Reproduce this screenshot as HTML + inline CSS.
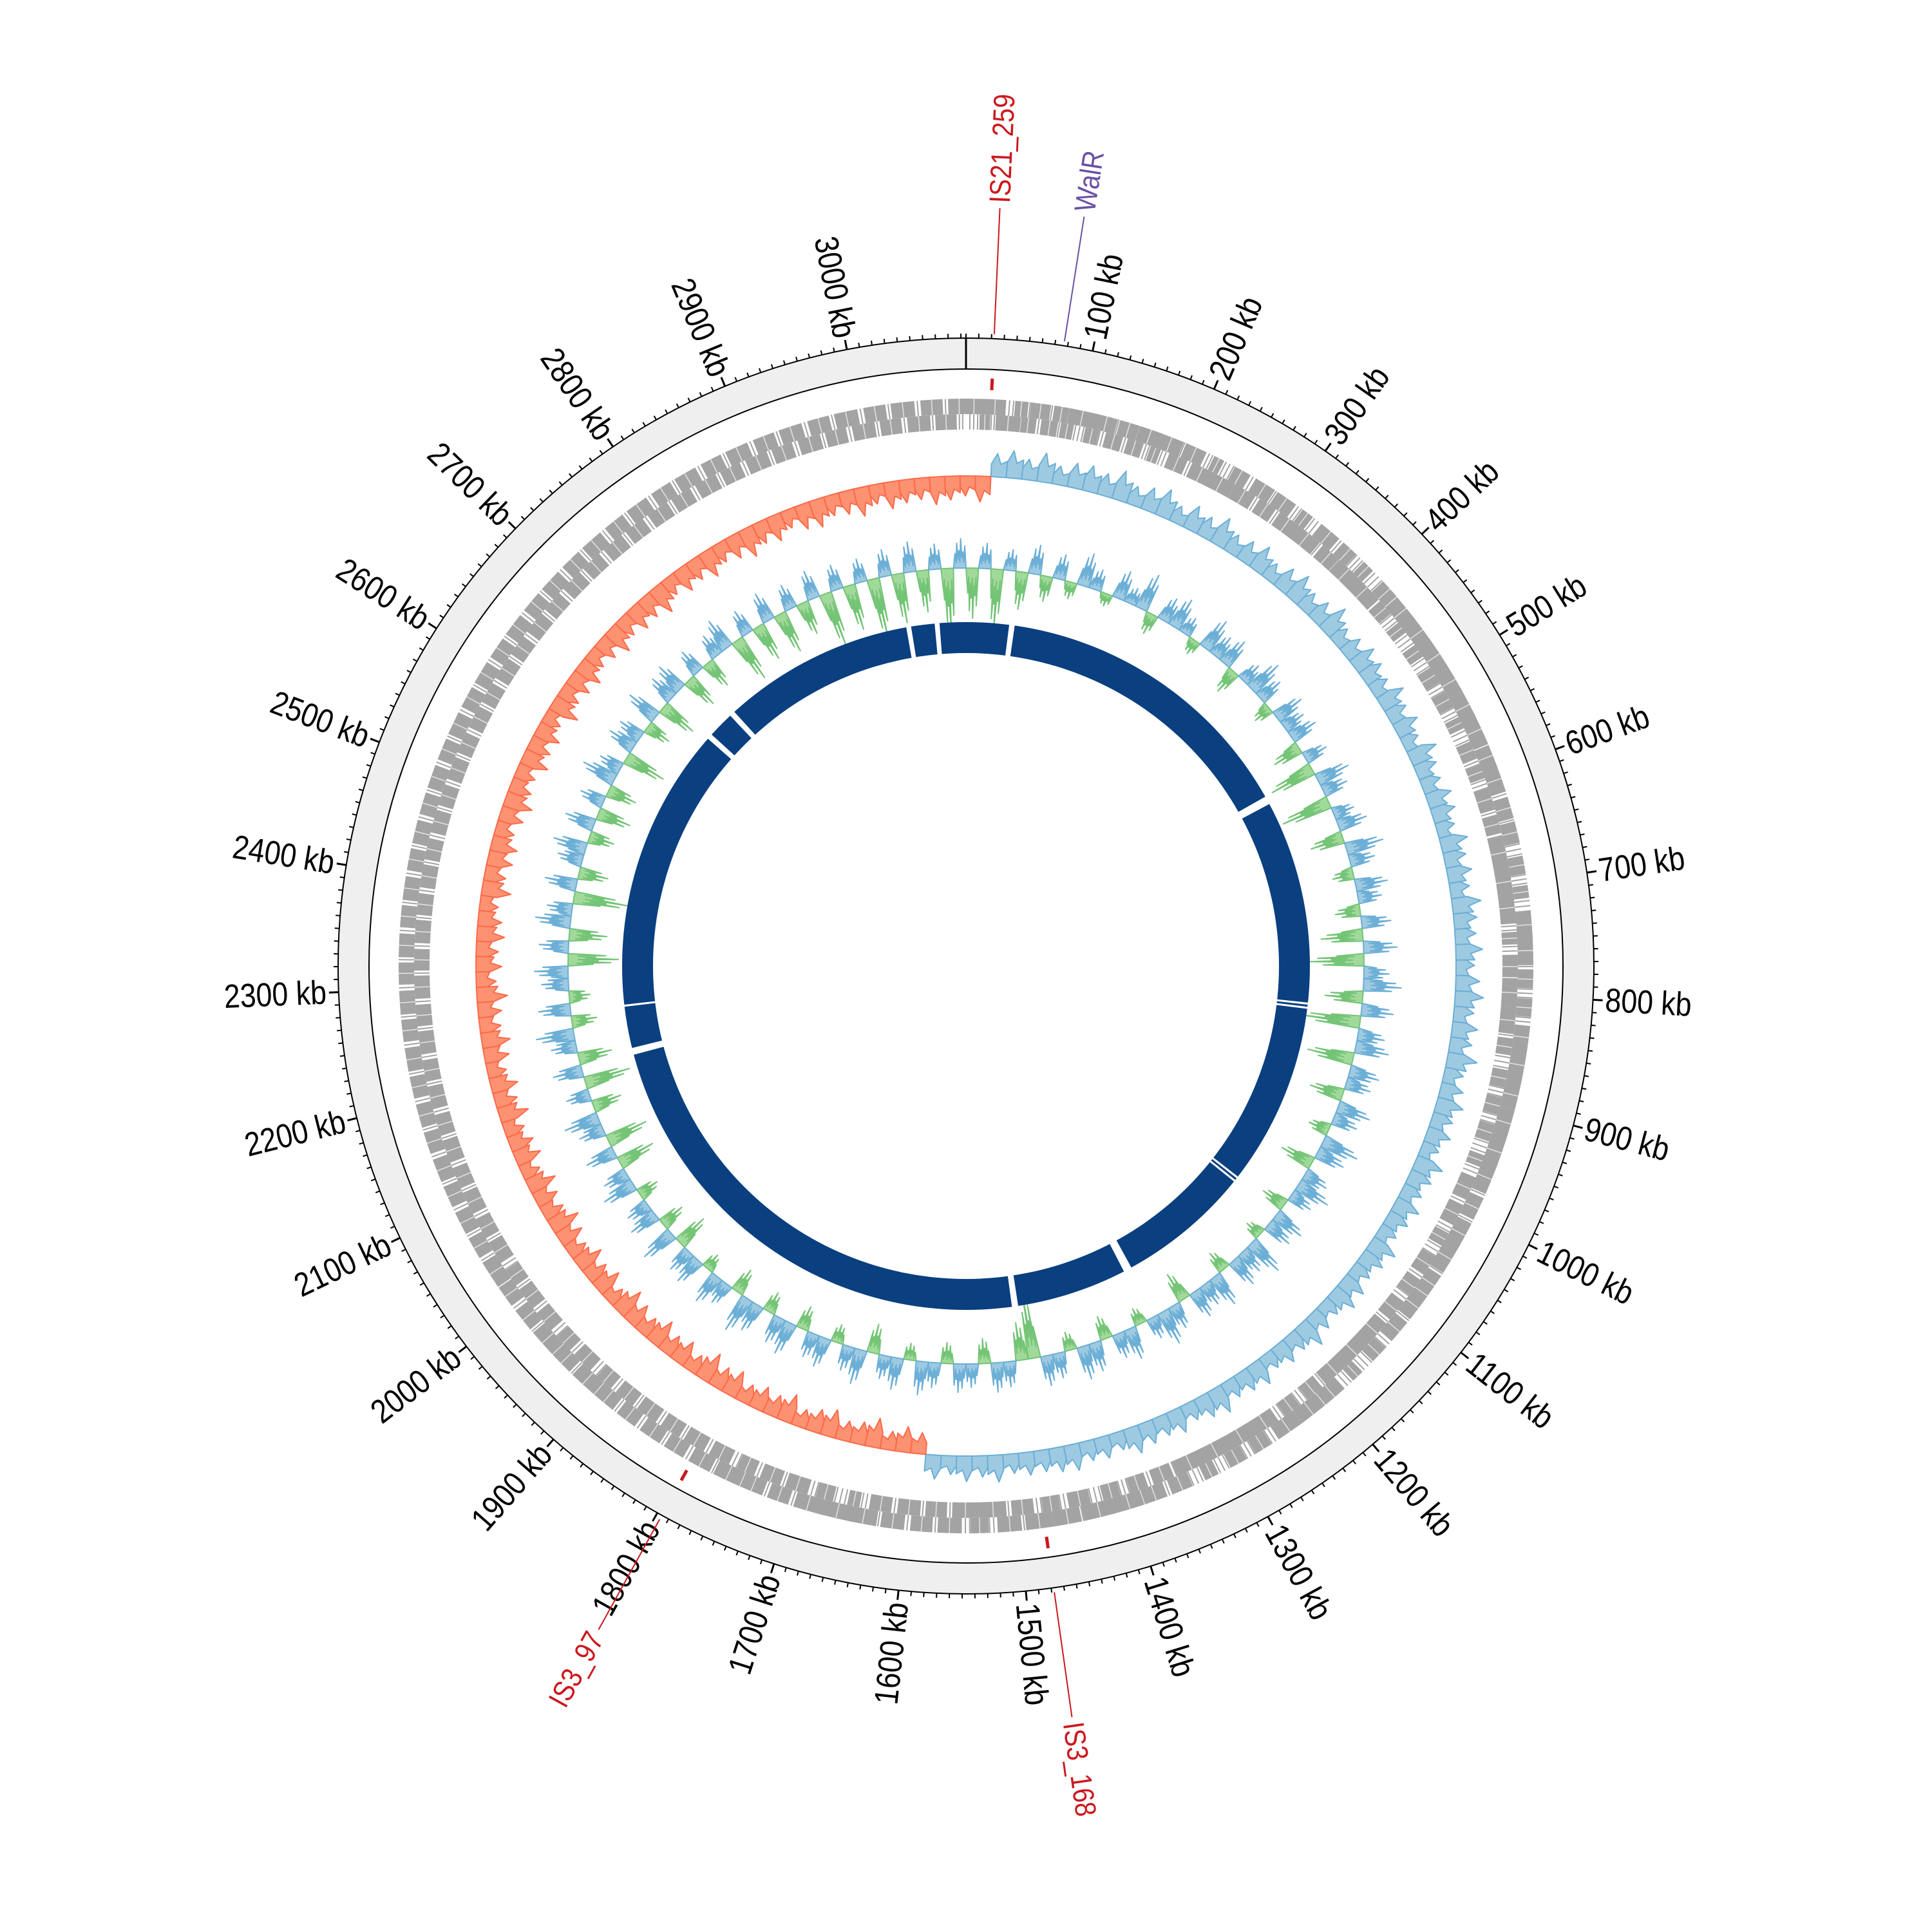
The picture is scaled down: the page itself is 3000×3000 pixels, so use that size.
<!DOCTYPE html>
<html>
<head>
<meta charset="utf-8">
<style>
  html, body { margin: 0; padding: 0; background: #ffffff; }
  svg { display: block; }
  text { font-family: "Liberation Sans Narrow", "Liberation Sans", sans-serif; }
</style>
</head>
<body>
<svg id="chart" width="3000" height="3000" viewBox="0 0 3000 3000" xmlns="http://www.w3.org/2000/svg">
  <rect x="0" y="0" width="3000" height="3000" fill="#ffffff"/>
  <g id="g-ring"></g>
  <g id="g-ticks"></g>
  <g id="g-cds"></g>
  <g id="g-skew"></g>
  <g id="g-gc"></g>
  <g id="g-inner"></g>
  <g id="g-annot"></g>
</svg>
<script>
// ---- data ----
const genomeKb = 3094;
const tickLabelsKb = [100,200,300,400,500,600,700,800,900,1000,1100,1200,1300,1400,1500,1600,1700,1800,1900,2000,2100,2200,2300,2400,2500,2600,2700,2800,2900,3000];
const cdsSwitchKb = [0,14,20,31,45,52,60,71,80,88,95,110,118,130,139,150,158,170,176,190,200,212,225,231,246,255,268,280,290,302,315,322,338,350,362,371,385,392,410,421,430,445,452,470,478,495,505,520,530,545,552,570,580,592,600,615,628,640,650,662,680,690,705,712,730,745,752,768,780,790,805,815,830,842,851,870,880,895,905,920,930,948,955,972,985,998,1010,1025,1033,1050,1062,1075,1085,1100,1112,1125,1140,1150,1168,1175,1192,1205,1215,1230,1240,1255,1270,1280,1295,1305,1322,1330,1348,1360,1372,1385,1395,1410,1420,1438,1450,1465,1475,1490,1502,1515,1530,1540,1555,1568,1580,1592,1605,1618,1630,1645,1652,1670,1680,1695,1708,1720,1732,1745,1755,1770,1782,1795,1808,1820,1832,1845,1858,1870,1882,1895,1905,1920,1932,1945,1955,1970,1982,1995,2008,2020,2030,2045,2058,2070,2082,2095,2108,2120,2132,2145,2158,2170,2182,2195,2208,2220,2232,2245,2258,2270,2282,2295,2308,2320,2332,2345,2358,2370,2382,2395,2408,2420,2432,2445,2458,2470,2482,2495,2508,2520,2532,2545,2558,2570,2582,2595,2608,2620,2632,2645,2658,2670,2682,2695,2708,2720,2732,2745,2758,2770,2782,2795,2808,2820,2832,2845,2858,2870,2882,2895,2908,2920,2932,2945,2958,2970,2982,2995,3008,3020,3032,3045,3058,3070,3082,3094];
const skewStartKb = 25;
const gcSkewPos = [72,85,64,90,58,77,81,69,93,60,74,88,55,79,67,91,62,70,84,57,76,89,63,71,95,59,68,82,73,61,87,66,78,54,92,70,63,80,75,58,86,69,77,61,90,72,65,83,57,74,88,62,79,68,93,60,71,85,66,76,56,89,73,64,81,70,58,87,75,62,78,84,59,69,91,66,74,57,82,71,63,88,76,60,79,67,73,86,58,70,64,83,77,68,72,61,84,66,79,58,74];
const gcSkewNeg = [66,80,59,92,71,63,87,74,58,90,69,77,62,85,73,95,60,79,68,88,64,76,91,57,83,70,86,61,78,94,67,72,89,58,81,75,63,92,70,84,59,77,88,66,73,95,62,80,69,86,74,58,91,67,79,83,61,76,90,70,64,87,73,81,59,94,68,77,85,62,71,89,66,80,74,92,60,78,69,87,63,75,93,70,82,58,79,88,65,73,90,61,84,72,67,86,74,62,80];
const gcContent = [-60,30,-70,25,-45,35,-30,
 30,-20,40,25,-15,35,20,45,-25,30,38,22,-18,40,28,35,-30,25,42,30,-22,36,27,33,
 -35,28,-55,40,30,-60,25,35,-40,45,30,-25,38,28,-30,
 35,-50,40,-65,30,45,-45,38,-70,32,40,-55,36,30,-40,
 40,30,-25,45,35,-40,30,42,28,-30,38,33,-20,45,30,36,-25,40,28,34,-35,30,42,26,-20,38,30,-28,35,40,-22,30,36,
 -75,-45,30,35,-30,28,
 34,-25,30,40,-20,38,28,-35,42,30,-22,36,30,-28,40,33,-25,35,45,-30,28,38,-20,34,30,-40,42,-30,35,28,-25,40,30,-45,36,-50,30,42,-35,28,-55,
 35,-40,30,45,-30,38,-25,32,40,-60,35,-45,42,30,-65,38,-35,30,40,-30,
 36,-40,30,-35,42,28,-50,34,30,-30,40,-45,32,36,-40,30,-35,28,38,-55,30,-45,35,-50,30,
 -40,34,-65,30,-55,28,-70,32,-60,36,-50,30,-75,35];
const contigGapStartKb = [62,520,826,832,1098,1104,1300,1472,2192,2262,2676,2722,3008,3049];
const contigGapEndKb   = [70,532,829,835,1101,1107,1312,1481,2202,2265,2684,2730,3015,3056];
const annotNames = ["IS21_259","WalR","IS3_168","IS3_97"];
const annotKb = [22,77,1478,1796];
const annotColors = ["#cb181d","#6a51a3","#cb181d","#cb181d"];

// ---- geometry ----
const NS = "http://www.w3.org/2000/svg";
const cx = 1500, cy = 1500;
const R_OUT = 975, R_IN = 927;
function ang(kb){ return kb / genomeKb * 2 * Math.PI; }
function pt(kb, r){ const a = ang(kb); return [cx + r*Math.sin(a), cy - r*Math.cos(a)]; }
function f(n){ return n.toFixed(2); }
function sector(k1, k2, r1, r2){
  const large = ((k2 - k1) / genomeKb) > 0.5 ? 1 : 0;
  const a = pt(k1, r2), b = pt(k2, r2), c = pt(k2, r1), d = pt(k1, r1);
  return `M${f(a[0])},${f(a[1])} A${r2},${r2} 0 ${large} 1 ${f(b[0])},${f(b[1])} L${f(c[0])},${f(c[1])} A${r1},${r1} 0 ${large} 0 ${f(d[0])},${f(d[1])} Z`;
}
function mk(tag, attrs, parent){
  const el = document.createElementNS(NS, tag);
  for (const k in attrs) el.setAttribute(k, attrs[k]);
  parent.appendChild(el);
  return el;
}
function radialText(parent, kb, r, str, size, color){
  const deg = kb / genomeKb * 360;
  const p = pt(kb, r);
  const flip = deg >= 180;
  const rot = flip ? deg + 90 : deg - 90;
  const t = mk('text', {x:0, y:0, 'font-size':size, fill:color, 'text-anchor': flip ? 'end' : 'start', 'dominant-baseline':'central',
    transform:`translate(${f(p[0])} ${f(p[1])}) rotate(${f(rot)}) scale(0.86 1)`}, parent);
  t.textContent = str;
  return t;
}

// ---- outer ring ----
const gRing = document.getElementById('g-ring');
let ringBand = mk('path', {d: sector(0, genomeKb*0.5, R_IN, R_OUT) + ' ' + sector(genomeKb*0.5, genomeKb, R_IN, R_OUT), fill:'#efefef', stroke:'none'}, gRing);


let c1 = mk('circle', {cx:cx, cy:cy, r:R_OUT, fill:'none', stroke:'#000', 'stroke-width':2}, gRing);


let c2 = mk('circle', {cx:cx, cy:cy, r:R_IN, fill:'none', stroke:'#000', 'stroke-width':2}, gRing);


let originLine = mk('line', {x1:cx, y1:cy-R_IN, x2:cx, y2:cy-R_OUT, stroke:'#000', 'stroke-width':3}, gRing);



// ---- ticks ----
const gTicks = document.getElementById('g-ticks');
for (let kb = 0; kb < genomeKb; kb += 10) {
  const major = (kb % 100 === 0) && kb > 0;
  const p1 = pt(kb, R_OUT), p2 = pt(kb, R_OUT + (major ? 15 : 7));
  const t = mk('line', {x1:f(p1[0]), y1:f(p1[1]), x2:f(p2[0]), y2:f(p2[1]), stroke:'#000', 'stroke-width': major ? 3 : 2}, gTicks);
  
  
}
tickLabelsKb.forEach(kb => {
  const t = radialText(gTicks, kb, 994, kb + ' kb', 52, '#000');
  
  
});

// ---- CDS tracks ----
const gCds = document.getElementById('g-cds');
for (let i = 0; i < cdsSwitchKb.length - 1; i++) {
  const k1 = cdsSwitchKb[i], k2 = cdsSwitchKb[i+1];
  const fwd = i % 2 === 0;
  const r1 = fwd ? 857 : 833, r2 = fwd ? 881 : 857;
  const span = k2 - k1;
  const p = mk('path', {d: sector(k1 - span*0.3, k2 + span*0.3, r1, r2), fill:'#a3a3a3'}, gCds);
  
  
  for (let j = 1; j <= 3; j++) {
    const km = k1 + span*j/4;
    const q1 = pt(km, fwd ? 833 : 857), q2 = pt(km, fwd ? 857 : 881);
    const l = mk('line', {x1:f(q1[0]), y1:f(q1[1]), x2:f(q2[0]), y2:f(q2[1]), stroke:'#a3a3a3', 'stroke-width':2}, gCds);
    
    
  }
  const w1 = pt(k1 + span*0.5, r1), w2 = pt(k1 + span*0.5, r2);
  const wl = mk('line', {x1:f(w1[0]), y1:f(w1[1]), x2:f(w2[0]), y2:f(w2[1]), stroke:'#ffffff', 'stroke-width':1.5, opacity:0.7}, gCds);
  
  
}

// ---- GC skew ----
const gSkew = document.getElementById('g-skew');
const skewAll = gcSkewPos.concat(gcSkewNeg.map(v => -v));
const SKEW_BASE = 761, SKEW_SCALE = 0.5;
const skewW = genomeKb / skewAll.length;
skewAll.forEach((v, i) => {
  const k1 = skewStartKb + i*skewW, k2 = skewStartKb + (i+1)*skewW, km = (k1+k2)/2;
  const pos = v >= 0;
  const peak = SKEW_BASE + v*SKEW_SCALE;
  const shoulder = SKEW_BASE + v*SKEW_SCALE*0.55;
  const pts = [pt(k1, SKEW_BASE), pt(k1, shoulder), pt(km - skewW*0.15, peak), pt(km + skewW*0.1, shoulder), pt(k2, SKEW_BASE + v*SKEW_SCALE*0.7), pt(k2, SKEW_BASE)];
  const poly = mk('polygon', {points: pts.map(q => f(q[0])+','+f(q[1])).join(' '), fill: pos ? '#9ecae1' : '#fc9272', stroke: pos ? '#6baed6' : '#fb6a4a', 'stroke-width':2, 'stroke-linejoin':'round'}, gSkew);
  
  
});

// ---- GC content ----
const gGc = document.getElementById('g-gc');
const GC_BASE = 618, GC_SCALE = 1.3;
const gcW = genomeKb / gcContent.length;
gcContent.forEach((v, i) => {
  const k1 = i*gcW, k2 = (i+1)*gcW;
  const pos = v >= 0;
  const pts = [pt(k1, GC_BASE)];
  const sub = [0.15, 0.3, 0.45, 0.6, 0.75, 0.9];
  const amp = [0.5, 0.85, 0.6, 1.0, 0.55, 0.75];
  sub.forEach((s, j) => {
    pts.push(pt(k1 + gcW*s, GC_BASE + v*GC_SCALE*amp[j]));
    pts.push(pt(k1 + gcW*(s+0.07), GC_BASE + v*GC_SCALE*amp[j]*0.35));
  });
  pts.push(pt(k2, GC_BASE));
  const poly = mk('polygon', {points: pts.map(q => f(q[0])+','+f(q[1])).join(' '), fill: pos ? '#9ecae1' : '#a1d99b', stroke: pos ? '#6baed6' : '#74c476', 'stroke-width':2, 'stroke-linejoin':'round'}, gGc);
  
  
});

// ---- inner contig ring ----
const gInner = document.getElementById('g-inner');
const innerBand = mk('path', {d: sector(0, genomeKb*0.5, 486, 534) + ' ' + sector(genomeKb*0.5, genomeKb, 486, 534), fill:'#0a3f80'}, gInner);


contigGapStartKb.forEach((s, i) => {
  const g = mk('path', {d: sector(s, contigGapEndKb[i], 480, 540), fill:'#ffffff'}, gInner);
  
  
});

// ---- annotations ----
const gAnnot = document.getElementById('g-annot');
annotNames.forEach((name, i) => {
  const kb = annotKb[i], col = annotColors[i];
  if (col === '#cb181d') {
    const d1 = pt(kb, 895), d2 = pt(kb, 913);
    const dash = mk('line', {x1:f(d1[0]), y1:f(d1[1]), x2:f(d2[0]), y2:f(d2[1]), stroke:col, 'stroke-width':5}, gAnnot);
    
    
  }
  const a = pt(kb, 982), b = pt(kb, 1178);
  const ln = mk('line', {x1:f(a[0]), y1:f(a[1]), x2:f(b[0]), y2:f(b[1]), stroke:col, 'stroke-width':2}, gAnnot);
  
  
  const t = radialText(gAnnot, kb, 1186, name, 46, col);
  
  
});
</script>
</body>
</html>
